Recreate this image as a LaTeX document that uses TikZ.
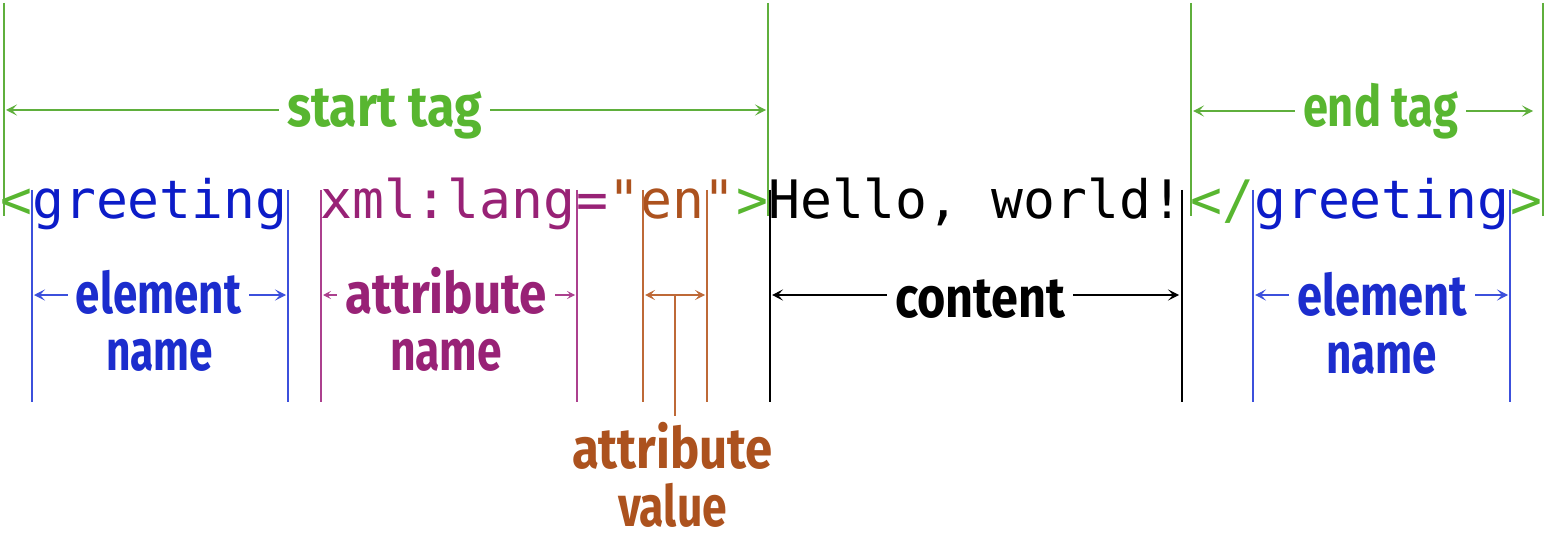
\documentclass[tikz,border=0pt]{standalone}
\usepackage{fontspec}
\usepackage{graphicx}
\usetikzlibrary{arrows.meta}
\newfontfamily\codefont{DejaVu Sans Mono}
\newfontfamily\lblfont{Fira Sans}
\definecolor{xgreen}{RGB}{88,182,48}
\definecolor{xgreenline}{RGB}{95,175,60}
\definecolor{xblue}{RGB}{12,28,200}
\definecolor{xbluelbl}{RGB}{28,45,205}
\definecolor{xblueline}{RGB}{60,80,220}
\definecolor{xpurple}{RGB}{152,34,118}
\definecolor{xpurpleline}{RGB}{172,64,142}
\definecolor{xbrown}{RGB}{172,82,30}
\definecolor{xbrownline}{RGB}{190,105,55}
\newcommand{\lbltext}[2]{\resizebox{#1pt}{\height}{#2}}
\tikzset{
  code/.style={inner sep=0pt, anchor=base west, font=\codefont\fontsize{53}{60}\selectfont},
  lbl/.style={inner xsep=8pt, inner ysep=2pt, anchor=base, font=\lblfont\bfseries\fontsize{57}{62}\selectfont},
  dim/.style={line width=1.3pt},
  dimarrow/.style={line width=1.3pt, -{Stealth[length=11pt,width=11pt,inset=5pt]}},
  smallarrow/.style={line width=1.3pt, -{Stealth[length=8pt,width=8pt,inset=3.5pt]}},
  bothsmall/.style={line width=1.3pt, {Stealth[length=10pt,width=10pt,inset=4.5pt]}-{Stealth[length=10pt,width=10pt,inset=4.5pt]}}
}
\begin{document}
\begin{tikzpicture}[x=1pt,y=-1pt]
\useasboundingbox (0,0) rectangle (1546,540);
% ---------- code line ----------
\node[code, text=xgreen]  (lt1)   at (0,218)    {<};
\node[code, text=xblue]   (gr1)   at (32,218)   {greeting};
\node[code, text=xpurple] (attr)  at (320,218)  {xml:lang};
\node[code, text=xpurple] (eq)    at (576,218)  {=};
\node[code, text=xbrown]  (aval)  at (608,218)  {"en"};
\node[code, text=xgreen]  (gt1)   at (736,218)  {>};
\node[code, text=black]   (hello) at (768,218)  {Hello, world!};
\node[code, text=xgreen]  (lt2)   at (1190,218) {</};
\node[code, text=xblue]   (gr2)   at (1254,218) {greeting};
\node[code, text=xgreen]  (gt2)   at (1510,218) {>};
% ---------- extension lines ----------
\draw[dim, xgreenline] (4,3) -- (4,216);
\draw[dim, xgreenline] (768,3) -- (768,216);
\draw[dim, xgreenline] (1191,3) -- (1191,216);
\draw[dim, xgreenline] (1543,3) -- (1543,216);
\draw[dim, xblueline] (32,190) -- (32,402);
\draw[dim, xblueline] (288,190) -- (288,402);
\draw[dim, xpurpleline] (321,190) -- (321,402);
\draw[dim, xpurpleline] (577,190) -- (577,402);
\draw[dim, xbrownline] (643,190) -- (643,402);
\draw[dim, xbrownline] (707,190) -- (707,402);
\draw[dim, black] (770,190) -- (770,402);
\draw[dim, black] (1182,190) -- (1182,402);
\draw[dim, xblueline] (1253,190) -- (1253,402);
\draw[dim, xblueline] (1510,190) -- (1510,402);
% ---------- start tag ----------
\node[lbl, text=xgreen] (stlbl) at (384.5,127) {\lbltext{195}{start tag}};
\coordinate (stA) at (6,110);
\coordinate (stB) at (766,110);
\draw[dimarrow, xgreenline] (stlbl.west |- stA) -- (stA);
\draw[dimarrow, xgreenline] (stlbl.east |- stB) -- (stB);
% ---------- end tag ----------
\node[lbl, text=xgreen] (etlbl) at (1380.5,127) {\lbltext{155}{end tag}};
\coordinate (etA) at (1193,111);
\coordinate (etB) at (1533,111);
\draw[dimarrow, xgreenline] (etlbl.west |- etA) -- (etA);
\draw[dimarrow, xgreenline] (etlbl.east |- etB) -- (etB);
% ---------- element name (start) ----------
\node[lbl, text=xbluelbl] (el1) at (158.5,313) {\lbltext{165}{element}};
\node[lbl, text=xbluelbl] (nm1) at (159.5,370) {\lbltext{107}{name}};
\coordinate (el1A) at (34,295);
\coordinate (el1B) at (286,295);
\draw[dimarrow, xblueline] (el1.west |- el1A) -- (el1A);
\draw[dimarrow, xblueline] (el1.east |- el1B) -- (el1B);
% ---------- attribute name ----------
\node[lbl, text=xpurple] (an) at (446,313) {\lbltext{202}{attribute}};
\node[lbl, text=xpurple] (nm2) at (446,370) {\lbltext{112}{name}};
\coordinate (anA) at (323,295);
\coordinate (anB) at (575,295);
\draw[smallarrow, xpurpleline] (an.west |- anA) -- (anA);
\draw[smallarrow, xpurpleline] (an.east |- anB) -- (anB);
% ---------- attribute value ----------
\coordinate (avA) at (645,295);
\coordinate (avB) at (705,295);
\coordinate (avM) at (675,295);
\coordinate (avS) at (675,416);
\draw[bothsmall, xbrownline] (avA) -- (avB);
\draw[dim, xbrownline] (avM) -- (avS);
\node[lbl, text=xbrown] (av) at (672.5,468) {\lbltext{201}{attribute}};
\node[lbl, text=xbrown] (vl) at (672.5,526) {\lbltext{109}{value}};
% ---------- content ----------
\node[lbl, text=black] (ct) at (980,317) {\lbltext{170}{content}};
\coordinate (ctA) at (772,295);
\coordinate (ctB) at (1179,295);
\draw[dimarrow, black] (ct.west |- ctA) -- (ctA);
\draw[dimarrow, black] (ct.east |- ctB) -- (ctB);
% ---------- element name (end) ----------
\node[lbl, text=xbluelbl] (el2) at (1382,315) {\lbltext{170}{element}};
\node[lbl, text=xbluelbl] (nm3) at (1381.5,373) {\lbltext{111}{name}};
\coordinate (el2A) at (1255,295);
\coordinate (el2B) at (1508,295);
\draw[dimarrow, xblueline] (el2.west |- el2A) -- (el2A);
\draw[dimarrow, xblueline] (el2.east |- el2B) -- (el2B);
\end{tikzpicture}
\end{document}
